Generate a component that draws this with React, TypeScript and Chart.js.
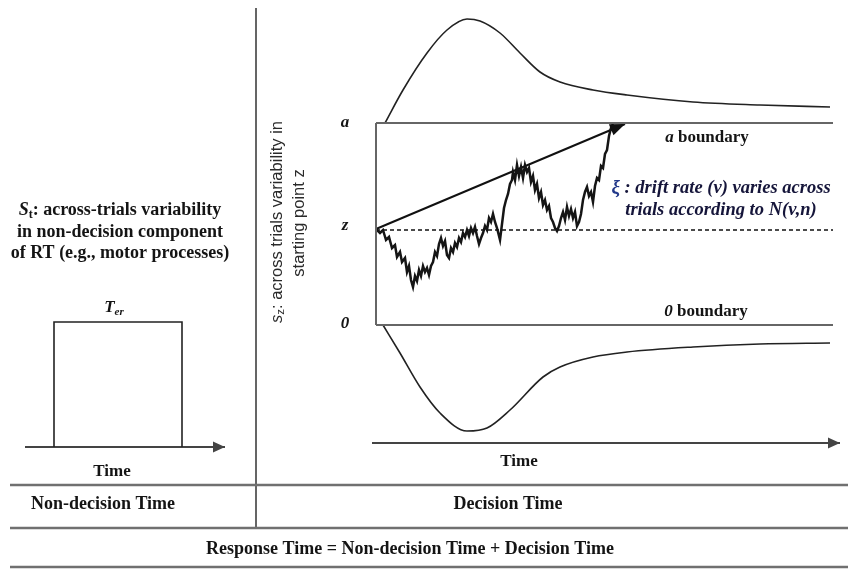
import React, { useEffect, useRef } from "react";
import { Chart, registerables } from "chart.js";

Chart.register(...registerables);

const W = 848;
const H = 569;

// ---------- decision panel data (time units / evidence units) ----------
const boundaryA = 202; // upper boundary "a"
const startZ = 95; // starting point "z"
const boundaryEndT = 457;
const timeAxisT = [-4, 464];
const timeAxisEv = -118;

// one sample path of the diffusion process
const walkT = [
  0, 4, 7, 10, 13, 16, 19, 21, 24, 26,
  29, 31, 33, 35, 37, 39, 41, 43, 45, 47,
  49, 51, 53, 55, 57, 59, 61, 63, 65, 67,
  69, 71, 73, 75, 77, 79, 81, 83, 85, 87,
  89, 91, 93, 95, 97, 99, 101, 103, 105, 107,
  109, 111, 113, 115, 117, 119, 121, 123, 124, 126,
  128, 130, 132, 134, 136, 137, 139, 141, 143, 145,
  147, 149, 151, 153, 155, 157, 159, 161, 163, 165,
  167, 169, 171, 173, 175, 177, 179, 181, 183, 185,
  187, 189, 191, 193, 195, 197, 199, 201, 203, 205,
  207, 209, 211, 213, 215, 217, 219, 221, 223, 225,
  227, 229, 231, 233, 235, 237,
];
const walkEv = [
  96, 92, 95, 85, 88, 77, 80, 68, 73, 63,
  67, 53, 59, 45, 38, 49, 44, 55, 49, 59,
  53, 57, 50, 59, 63, 73, 69, 81, 87, 79,
  84, 70, 67, 77, 73, 82, 78, 87, 83, 92,
  88, 95, 89, 97, 92, 98, 89, 81, 87, 92,
  99, 95, 107, 103, 111, 103, 97, 89, 85, 101,
  117, 125, 131, 141, 145, 153, 145, 160, 149, 158,
  147, 160, 153, 157, 143, 149, 135, 141, 127, 133,
  120, 125, 115, 119, 107, 103, 97, 94, 99, 107,
  113, 105, 118, 109, 116, 107, 113, 99, 103, 111,
  125, 133, 138, 129, 133, 123, 139, 147, 145, 159,
  157, 171, 175, 189, 197, 201,
];

// mean drift direction
const driftT = [0, 249];
const driftEv = [96, 201];

// RT densities at the upper and lower boundaries
const topDensT = [9, 27, 51, 71, 91, 104, 124, 144, 164, 184, 217, 251, 317, 384, 454];
const topDens = [0, 33, 70, 93, 104, 102, 90, 70, 51, 41, 33, 28, 21, 18, 16];
const botDensT = [7, 24, 44, 64, 91, 111, 134, 167, 184, 217, 251, 317, 384, 454];
const botDens = [0, 28, 62, 88, 106, 103, 85, 52, 42, 32, 27, 22, 19, 18];

// ---------- non-decision panel (page units) ----------
const terX = [54, 54, 182, 182];
const terY = [447, 322, 322, 447];
const ndAxisX = [25, 225];
const ndAxisY = 447;

// ---------- table frame (page units) ----------
const dividerX = 256;
const dividerY = [8, 528];
const ruleY = [485, 528, 567];
const ruleX = [10, 848];

type Seg = { text: string; font: string; dy?: number; color?: string };
type Label = { x: number; y: number; segs: Seg[]; rotate?: boolean };

const serif = (px: number, style = "bold") =>
  `${style} ${px}px "Liberation Serif", "Times New Roman", serif`;
const sans = (px: number, style = "") =>
  `${style} ${px}px "Liberation Sans", Arial, sans-serif`;

const INK = "#141414";
const NAVY = "#15153a";

const labels: Label[] = [
  {
    x: 120, y: 210,
    segs: [
      { text: "S", font: serif(18, "italic bold") },
      { text: "t", font: serif(12), dy: 5 },
      { text: ": across-trials variability", font: serif(18) },
    ],
  },
  { x: 120, y: 232, segs: [{ text: "in non-decision component", font: serif(18) }] },
  { x: 120, y: 253, segs: [{ text: "of RT (e.g., motor processes)", font: serif(18) }] },
  {
    x: 114, y: 308,
    segs: [
      { text: "T", font: serif(17, "italic bold") },
      { text: "er", font: serif(11, "italic bold"), dy: 4 },
    ],
  },
  { x: 112, y: 472, segs: [{ text: "Time", font: serif(17) }] },
  { x: 103, y: 504, segs: [{ text: "Non-decision Time", font: serif(18) }] },
  { x: 508, y: 504, segs: [{ text: "Decision Time", font: serif(18) }] },
  { x: 410, y: 549, segs: [{ text: "Response Time = Non-decision Time + Decision Time", font: serif(18) }] },
  { x: 519, y: 462, segs: [{ text: "Time", font: serif(17) }] },
  { x: 345, y: 123, segs: [{ text: "a", font: serif(17, "italic bold") }] },
  { x: 345, y: 226, segs: [{ text: "z", font: serif(17, "italic bold") }] },
  { x: 345, y: 324, segs: [{ text: "0", font: serif(17, "italic bold") }] },
  {
    x: 707, y: 138,
    segs: [
      { text: "a", font: serif(17, "italic bold") },
      { text: " boundary", font: serif(17) },
    ],
  },
  {
    x: 706, y: 312,
    segs: [
      { text: "0", font: serif(17, "italic bold") },
      { text: " boundary", font: serif(17) },
    ],
  },
  {
    x: 721, y: 188,
    segs: [
      { text: "ξ", font: serif(19, "italic bold"), color: "#23398a" },
      { text: " : drift rate (v) varies across", font: serif(18.5, "italic bold"), color: NAVY },
    ],
  },
  {
    x: 721, y: 210,
    segs: [{ text: "trials according to N(v,n)", font: serif(18.5, "italic bold"), color: NAVY }],
  },
  {
    x: 277, y: 222, rotate: true,
    segs: [
      { text: "s", font: sans(16.5, "italic"), color: "#2a2a2a" },
      { text: "z", font: sans(11.5), dy: 4, color: "#2a2a2a" },
      { text: ": across trials variability in", font: sans(16.5), color: "#2a2a2a" },
    ],
  },
  {
    x: 299, y: 223, rotate: true,
    segs: [{ text: "starting point z", font: sans(16.5), color: "#2a2a2a" }],
  },
];

function drawSegs(ctx: CanvasRenderingContext2D, segs: Seg[], x: number, y: number) {
  let total = 0;
  const widths = segs.map((s) => {
    ctx.font = s.font;
    const w = ctx.measureText(s.text).width;
    total += w;
    return w;
  });
  let cx = x - total / 2;
  segs.forEach((s, i) => {
    ctx.font = s.font;
    ctx.fillStyle = s.color || INK;
    ctx.fillText(s.text, cx, y + (s.dy || 0));
    cx += widths[i];
  });
}

const labelPlugin = {
  id: "labels",
  afterDraw(chart: any) {
    const ctx: CanvasRenderingContext2D = chart.ctx;
    const sx = chart.scales.x;
    const sy = chart.scales.y;
    ctx.save();
    ctx.textAlign = "left";
    ctx.textBaseline = "middle";
    labels.forEach((l) => {
      const px = sx.getPixelForValue(l.x);
      const py = sy.getPixelForValue(l.y);
      if (l.rotate) {
        ctx.save();
        ctx.translate(px, py);
        ctx.rotate(-Math.PI / 2);
        drawSegs(ctx, l.segs, 0, 0);
        ctx.restore();
      } else {
        drawSegs(ctx, l.segs, px, py);
      }
    });
    ctx.restore();
  },
};

const arrowPlugin = {
  id: "arrows",
  afterDatasetsDraw(chart: any) {
    const ctx: CanvasRenderingContext2D = chart.ctx;
    chart.data.datasets.forEach((ds: any, i: number) => {
      if (!ds.arrowHead) return;
      const pts = chart.getDatasetMeta(i).data;
      const p1 = pts[pts.length - 2];
      const p2 = pts[pts.length - 1];
      const ang = Math.atan2(p2.y - p1.y, p2.x - p1.x);
      const [len, half] = ds.arrowHead;
      ctx.save();
      ctx.translate(p2.x, p2.y);
      ctx.rotate(ang);
      ctx.beginPath();
      ctx.moveTo(0, 0);
      ctx.lineTo(-len, -half);
      ctx.lineTo(-len, half);
      ctx.closePath();
      ctx.fillStyle = ds.borderColor;
      ctx.fill();
      ctx.restore();
    });
  },
};

const zip = (xs: number[], ys: number[]) => xs.map((x, i) => ({ x, y: ys[i] }));

function line(data: { x: number; y: number }[], opts: any) {
  return {
    data,
    showLine: true,
    pointRadius: 0,
    pointHoverRadius: 0,
    borderColor: INK,
    borderWidth: 1.5,
    fill: false,
    tension: 0,
    ...opts,
  };
}

export default function App() {
  const ref = useRef<HTMLCanvasElement | null>(null);

  useEffect(() => {
    if (!ref.current) return;
    const dec = { xAxisID: "t", yAxisID: "ev" };
    const page = { xAxisID: "x", yAxisID: "y" };
    const grey = "#666666";

    const datasets: any[] = [
      // table frame
      line(zip(ruleX, [ruleY[0], ruleY[0]]), { ...page, borderColor: "#707070", borderWidth: 2.6 }),
      line(zip(ruleX, [ruleY[1], ruleY[1]]), { ...page, borderColor: "#707070", borderWidth: 2.6 }),
      line(zip(ruleX, [ruleY[2], ruleY[2]]), { ...page, borderColor: "#707070", borderWidth: 2.6 }),
      line(zip([dividerX, dividerX], dividerY), { ...page, borderColor: "#333333", borderWidth: 1.5 }),
      // non-decision panel
      line(zip(terX, terY), { ...page, borderColor: "#222222", borderWidth: 1.6 }),
      line(zip(ndAxisX, [ndAxisY, ndAxisY]), { ...page, borderColor: "#444444", borderWidth: 2, arrowHead: [12, 5.5] }),
      // decision panel boundaries
      line(zip([0, boundaryEndT], [boundaryA, boundaryA]), { ...dec, borderColor: grey, borderWidth: 2 }),
      line(zip([0, boundaryEndT], [0, 0]), { ...dec, borderColor: grey, borderWidth: 2 }),
      line(zip([0, 0], [0, boundaryA]), { ...dec, borderColor: grey, borderWidth: 2 }),
      line(zip([0, boundaryEndT], [startZ, startZ]), { ...dec, borderColor: "#111111", borderWidth: 1.4, borderDash: [4, 3] }),
      // densities
      line(zip(topDensT, topDens.map((d) => boundaryA + d)), { ...dec, borderColor: "#222222", borderWidth: 1.6, cubicInterpolationMode: "monotone" }),
      line(zip(botDensT, botDens.map((d) => -d)), { ...dec, borderColor: "#222222", borderWidth: 1.6, cubicInterpolationMode: "monotone" }),
      // time axis
      line(zip(timeAxisT, [timeAxisEv, timeAxisEv]), { ...dec, borderColor: "#444444", borderWidth: 2, arrowHead: [12, 5.5] }),
      // sample path
      line(zip(walkT, walkEv), { ...dec, borderColor: "#151515", borderWidth: 2.5 }),
      // drift
      line(zip(driftT, driftEv), { ...dec, borderColor: "#111111", borderWidth: 2, arrowHead: [15, 6] }),
    ];

    const chart = new Chart(ref.current, {
      type: "scatter",
      data: { datasets },
      options: {
        animation: false,
        responsive: false,
        devicePixelRatio: 1,
        events: [],
        layout: { padding: 0 },
        plugins: { legend: { display: false }, tooltip: { enabled: false }, title: { display: false } },
        scales: {
          x: { type: "linear", axis: "x", min: 0, max: W, display: false },
          y: { type: "linear", axis: "y", min: 0, max: H, reverse: true, display: false },
          t: { type: "linear", axis: "x", min: -376, max: W - 376, display: false },
          ev: { type: "linear", axis: "y", min: -(H - 325), max: 325, display: false },
        },
      },
      plugins: [arrowPlugin, labelPlugin],
    } as any);
    return () => chart.destroy();
  }, []);

  return (
    <div style={{ position: "fixed", left: 0, top: 0, width: W, height: H, background: "#ffffff" }}>
      <canvas ref={ref} width={W} height={H} style={{ display: "block" }} />
    </div>
  );
}
